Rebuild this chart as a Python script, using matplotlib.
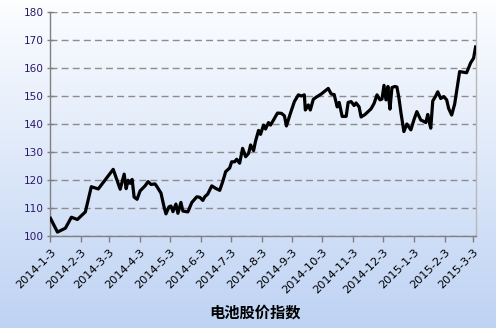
import numpy as np
import pandas as pd
import matplotlib
matplotlib.use('Agg')
import matplotlib.pyplot as plt

plt.rcParams['font.family'] = ['DejaVu Sans', 'Noto Sans CJK SC']

# days after 2014-01-03 and index value
start = pd.Timestamp('2014-01-03')
days = [0, 7, 15, 21, 27, 35, 41, 48, 63, 70, 74, 76, 78, 80, 82, 84, 87, 90,
        95, 98, 101, 105, 107, 111, 114, 116, 119, 121, 123, 126, 128, 131,
        133, 138, 142, 147, 150, 153, 155, 158, 162, 166, 170, 173, 176, 180,
        182, 185, 187, 190, 193, 196, 199, 201, 204, 206, 209, 211, 214, 216,
        219, 221, 224, 228, 232, 235, 237, 241, 245, 249, 252, 255, 256, 259,
        261, 264, 267, 272, 279, 282, 285, 288, 290, 293, 297, 299, 302, 305,
        307, 310, 312, 316, 322, 325, 328, 331, 333, 335, 337, 339, 340, 341,
        343, 346, 348, 350, 352, 355, 358, 362, 365, 368, 372, 374, 377, 379,
        380, 382, 384, 387, 389, 392, 395, 398, 400, 403, 406, 411, 418, 422,
        425, 427]
values = [106.3, 101.4, 102.8, 106.7, 105.9, 108.6, 117.6, 116.8, 123.8, 116.7,
          122.1, 116.9, 119.9, 118.8, 120.2, 113.9, 113.1, 116.1, 117.9, 119.4,
          118.4, 118.6, 117.6, 115.3, 110.5, 107.9, 110.4, 110.7, 108.7, 111.4,
          108.1, 112.0, 108.9, 108.6, 112.0, 114.0, 113.8, 112.7, 114.0, 115.0,
          117.9, 117.0, 116.3, 119.4, 123.0, 124.3, 126.5, 126.5, 127.4, 126.0,
          131.3, 128.3, 129.5, 132.5, 130.5, 133.9, 137.7, 136.3, 139.6, 138.2,
          140.5, 139.6, 141.4, 143.9, 143.8, 142.9, 139.3, 143.8, 148.0, 150.4,
          150.0, 150.4, 145.0, 146.8, 145.0, 148.8, 149.6, 150.7, 152.7, 150.7,
          150.5, 146.1, 147.7, 142.7, 142.7, 147.7, 148.0, 146.6, 147.5, 146.1,
          142.5, 143.4, 145.4, 147.3, 150.4, 148.6, 148.9, 153.8, 148.6, 153.4,
          148.8, 145.3, 153.0, 153.4, 153.2, 149.3, 144.1, 137.3, 140.0, 137.9,
          141.4, 144.4, 141.4, 141.1, 140.5, 143.4, 141.4, 138.5, 148.2, 150.0,
          151.5, 149.1, 149.8, 148.6, 145.5, 143.2, 147.1, 158.7, 158.3, 161.8,
          163.5, 167.5]
dates = start + pd.to_timedelta(days, unit='D')

tick_dates = pd.date_range('2014-01-01', '2015-03-01', freq='MS') + pd.Timedelta(days=2)
tick_labels = ['%d-%d-%d' % (d.year, d.month, d.day) for d in tick_dates]
yticks = np.arange(100, 181, 10)
title = '电池股价指数'

fig = plt.figure(figsize=(4.96, 3.28), dpi=100)

# background gradient, white at top to light blue at bottom
bg = fig.add_axes([0, 0, 1, 1], zorder=0)
grad = np.linspace(0, 1, 256).reshape(-1, 1)
top = np.array([0.99, 0.995, 1.0])
bot = np.array([0.745, 0.825, 0.955])
img = top[None, None, :] * (1 - grad[:, :, None]) + bot[None, None, :] * grad[:, :, None]
bg.imshow(img, aspect='auto', extent=[0, 1, 0, 1])
bg.axis('off')

ax = fig.add_axes([0.1018, 0.2805, 0.857, 0.683], zorder=1)
ax.patch.set_alpha(0)
ax.plot(dates, values, color='black', lw=2.3, solid_joinstyle='round', zorder=3)

ax.set_ylim(100, 180)
ax.set_yticks(yticks)
ax.set_xlim(start, dates[-1])
ax.set_xticks(tick_dates)
ax.set_xticklabels(tick_labels, rotation=45, ha='right', rotation_mode='anchor',
                   fontsize=8.2, color='black')
ax.tick_params(axis='y', labelsize=7.6, labelcolor='#2a1a6a', color='#808080',
               direction='inout', length=5, width=1, pad=2)
ax.tick_params(axis='x', color='#808080', direction='out', length=4, width=1, pad=4)
ax.grid(axis='y', color='#8c8c8c', ls=(0, (5, 3)), lw=1)

for s in ['left', 'bottom']:
    ax.spines[s].set_color('#808080')
    ax.spines[s].set_linewidth(1)
ax.spines['right'].set_color('#b8b8b8')
ax.spines['right'].set_linewidth(1)
ax.spines['top'].set_visible(False)

fig.text(0.515, 0.022, title, ha='center', va='bottom', fontsize=11,
         fontweight='bold', family=['Noto Sans CJK SC', 'DejaVu Sans'])

fig.savefig('out.png', dpi=100)
